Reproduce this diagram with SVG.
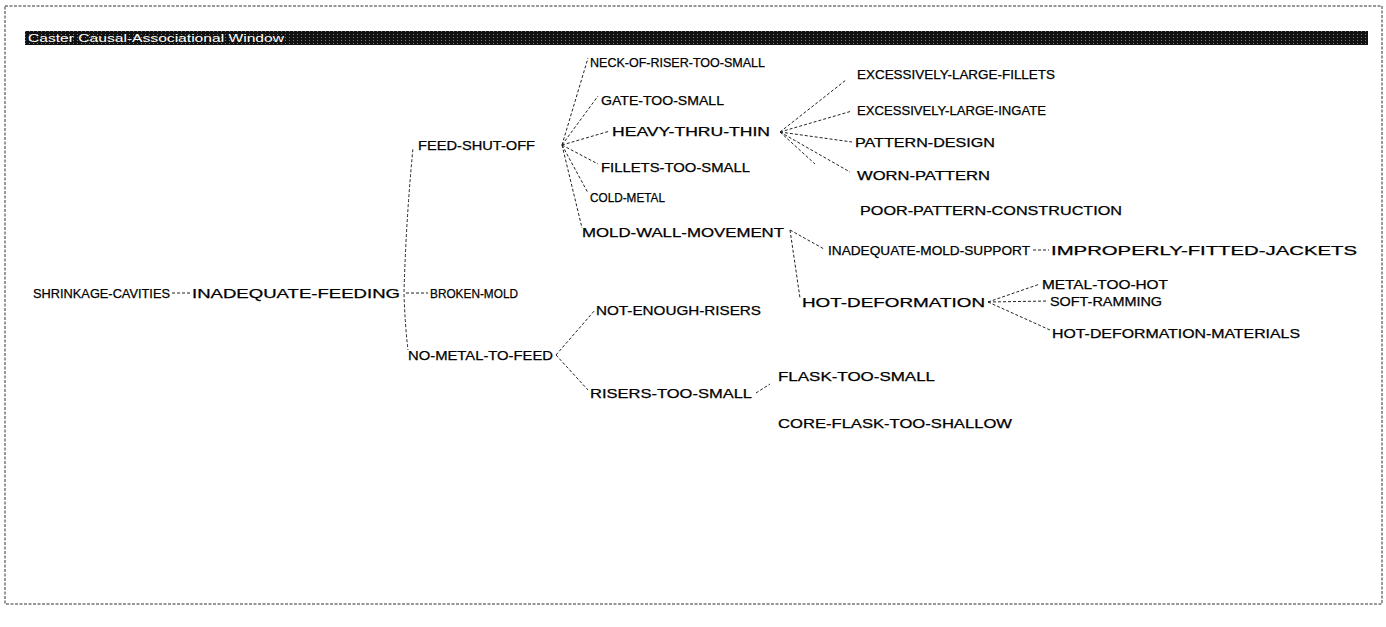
<svg xmlns="http://www.w3.org/2000/svg" width="1386" height="627" viewBox="0 0 1386 627">
<defs>
<pattern id="dith" width="4" height="3" patternUnits="userSpaceOnUse">
<rect width="4" height="3" fill="#111"/>
<rect x="1" y="1" width="1" height="1" fill="#777"/>
</pattern>
<style>
text{font-family:"Liberation Sans","DejaVu Sans",sans-serif;font-size:13px;fill:#000;stroke:#000;stroke-width:0.25;}
.t{fill:#fff;stroke:none;font-size:11px;}
.c line,.c path{stroke:#222;stroke-width:1;stroke-dasharray:3 2;fill:none;}
.frame{fill:#fff;stroke:#333;stroke-width:1;stroke-dasharray:3 1.5;}
</style>
</defs>
<rect width="1386" height="627" fill="#fff"/>
<rect class="frame" x="5" y="6" width="1377" height="598"/>
<g id="titlebar">
<rect x="25" y="31" width="1343" height="14" fill="url(#dith)"/>
<text class="t" x="28" y="42" textLength="256" lengthAdjust="spacingAndGlyphs">Caster Causal-Associational Window</text>
</g>
<g class="c" id="connectors">
<line x1="172" y1="293" x2="190" y2="293"/>
<path d="M404,292 Q406,220 413,148"/>
<path d="M404,294 Q405,325 408,350"/>
<line x1="406" y1="293" x2="428" y2="293"/>
<line x1="562" y1="145" x2="588" y2="58"/>
<line x1="562" y1="145" x2="598" y2="96"/>
<line x1="562" y1="145" x2="610" y2="131"/>
<line x1="562" y1="145" x2="598" y2="164"/>
<line x1="562" y1="145" x2="588" y2="193"/>
<line x1="562" y1="145" x2="582" y2="228"/>
<line x1="780" y1="132" x2="846" y2="80"/>
<line x1="780" y1="132" x2="852" y2="111"/>
<line x1="780" y1="132" x2="852" y2="142"/>
<line x1="780" y1="132" x2="850" y2="172"/>
<line x1="780" y1="132" x2="815" y2="164"/>
<line x1="790" y1="230" x2="824" y2="249"/>
<line x1="790" y1="230" x2="800" y2="298"/>
<line x1="1033" y1="250" x2="1049" y2="250"/>
<line x1="988" y1="302" x2="1040" y2="284"/>
<line x1="988" y1="302" x2="1048" y2="301"/>
<line x1="988" y1="302" x2="1050" y2="330"/>
<line x1="556" y1="355" x2="595" y2="310"/>
<line x1="556" y1="355" x2="588" y2="390"/>
<line x1="756" y1="393" x2="770" y2="384"/>
</g>
<g id="n-shrinkage"><text x="33" y="298" textLength="137" lengthAdjust="spacingAndGlyphs">SHRINKAGE-CAVITIES</text></g>
<g id="n-inadequate-feeding"><text x="192" y="298" textLength="208" lengthAdjust="spacingAndGlyphs">INADEQUATE-FEEDING</text></g>
<g id="n-feed-shut-off"><text x="418" y="150" textLength="117" lengthAdjust="spacingAndGlyphs">FEED-SHUT-OFF</text></g>
<g id="n-broken-mold"><text x="430" y="298" textLength="88" lengthAdjust="spacingAndGlyphs">BROKEN-MOLD</text></g>
<g id="n-no-metal"><text x="408" y="360" textLength="145" lengthAdjust="spacingAndGlyphs">NO-METAL-TO-FEED</text></g>
<g id="n-neck"><text x="590" y="67" textLength="175" lengthAdjust="spacingAndGlyphs">NECK-OF-RISER-TOO-SMALL</text></g>
<g id="n-gate"><text x="601" y="105" textLength="123" lengthAdjust="spacingAndGlyphs">GATE-TOO-SMALL</text></g>
<g id="n-heavy"><text x="612" y="136" textLength="158" lengthAdjust="spacingAndGlyphs">HEAVY-THRU-THIN</text></g>
<g id="n-fillets"><text x="601" y="172" textLength="149" lengthAdjust="spacingAndGlyphs">FILLETS-TOO-SMALL</text></g>
<g id="n-cold"><text x="590" y="202" textLength="75" lengthAdjust="spacingAndGlyphs">COLD-METAL</text></g>
<g id="n-mold-wall"><text x="582" y="237" textLength="202" lengthAdjust="spacingAndGlyphs">MOLD-WALL-MOVEMENT</text></g>
<g id="n-exc-fillets"><text x="857" y="79" textLength="198" lengthAdjust="spacingAndGlyphs">EXCESSIVELY-LARGE-FILLETS</text></g>
<g id="n-exc-ingate"><text x="857" y="115" textLength="189" lengthAdjust="spacingAndGlyphs">EXCESSIVELY-LARGE-INGATE</text></g>
<g id="n-pattern-design"><text x="855" y="147" textLength="140" lengthAdjust="spacingAndGlyphs">PATTERN-DESIGN</text></g>
<g id="n-worn"><text x="857" y="180" textLength="133" lengthAdjust="spacingAndGlyphs">WORN-PATTERN</text></g>
<g id="n-poor"><text x="860" y="215" textLength="262" lengthAdjust="spacingAndGlyphs">POOR-PATTERN-CONSTRUCTION</text></g>
<g id="n-inadequate-mold"><text x="828" y="255" textLength="202" lengthAdjust="spacingAndGlyphs">INADEQUATE-MOLD-SUPPORT</text></g>
<g id="n-improperly"><text x="1051" y="255" textLength="306" lengthAdjust="spacingAndGlyphs">IMPROPERLY-FITTED-JACKETS</text></g>
<g id="n-hot-def"><text x="802" y="307" textLength="183" lengthAdjust="spacingAndGlyphs">HOT-DEFORMATION</text></g>
<g id="n-metal-hot"><text x="1042" y="289" textLength="126" lengthAdjust="spacingAndGlyphs">METAL-TOO-HOT</text></g>
<g id="n-soft"><text x="1050" y="306" textLength="112" lengthAdjust="spacingAndGlyphs">SOFT-RAMMING</text></g>
<g id="n-hot-def-mat"><text x="1052" y="338" textLength="248" lengthAdjust="spacingAndGlyphs">HOT-DEFORMATION-MATERIALS</text></g>
<g id="n-not-enough"><text x="596" y="315" textLength="165" lengthAdjust="spacingAndGlyphs">NOT-ENOUGH-RISERS</text></g>
<g id="n-risers-small"><text x="590" y="398" textLength="162" lengthAdjust="spacingAndGlyphs">RISERS-TOO-SMALL</text></g>
<g id="n-flask"><text x="778" y="381" textLength="157" lengthAdjust="spacingAndGlyphs">FLASK-TOO-SMALL</text></g>
<g id="n-core-flask"><text x="778" y="428" textLength="234" lengthAdjust="spacingAndGlyphs">CORE-FLASK-TOO-SHALLOW</text></g>
</svg>
